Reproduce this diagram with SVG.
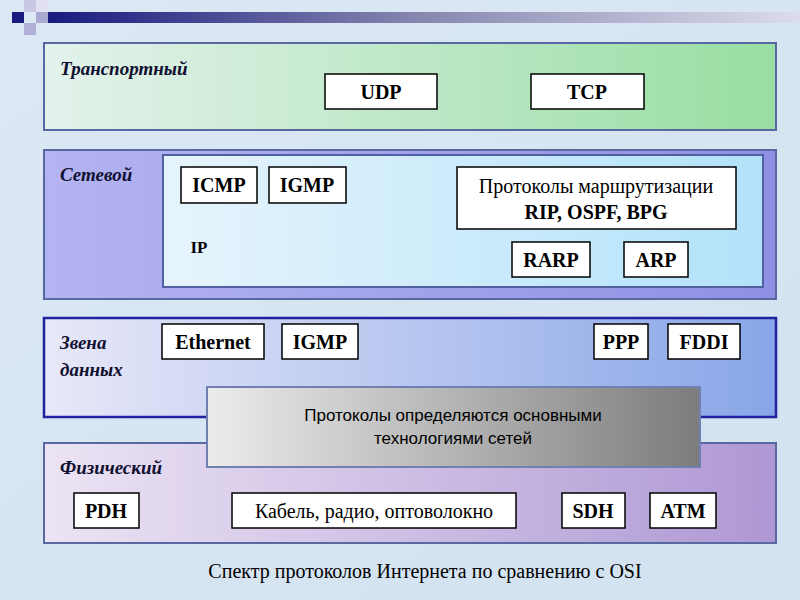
<svg xmlns="http://www.w3.org/2000/svg" width="800" height="600" viewBox="0 0 800 600">
<defs>
<linearGradient id="bg" x1="0" y1="0" x2="1" y2="1"><stop offset="0" stop-color="#dce8f4"/><stop offset="1" stop-color="#d2e2f0"/></linearGradient>
<linearGradient id="bar" x1="0" x2="1"><stop offset="0" stop-color="#1a1a80"/><stop offset="0.5" stop-color="#8888b0"/><stop offset="1" stop-color="#dcdcec"/></linearGradient>
<linearGradient id="g1" x1="0" x2="1"><stop offset="0" stop-color="#e4f2ec"/><stop offset="1" stop-color="#98dea2"/></linearGradient>
<linearGradient id="g2" x1="0" x2="1"><stop offset="0" stop-color="#b4b4f2"/><stop offset="1" stop-color="#9090e4"/></linearGradient>
<linearGradient id="g2i" x1="0" x2="1"><stop offset="0" stop-color="#e6f4fc"/><stop offset="1" stop-color="#b2e2fa"/></linearGradient>
<linearGradient id="g3" x1="0" x2="1"><stop offset="0" stop-color="#e8e8f8"/><stop offset="1" stop-color="#88a6e8"/></linearGradient>
<linearGradient id="g4" x1="0" x2="1"><stop offset="0" stop-color="#ece4f4"/><stop offset="1" stop-color="#ae98d4"/></linearGradient>
<linearGradient id="gg" x1="0" x2="1"><stop offset="0" stop-color="#ececec"/><stop offset="1" stop-color="#7c7c7c"/></linearGradient>
<style>
.band{stroke:#5868a0;stroke-width:2}
.box{fill:#fff;stroke:#000;stroke-width:1.5}
.sf{font-family:"Liberation Serif","Times New Roman","DejaVu Serif",serif}
.bt{font-weight:bold;font-size:20px;text-anchor:middle;fill:#000}
.lbl{font-weight:bold;font-style:italic;font-size:19px;fill:#101030}
.rt{font-size:20px;text-anchor:middle;fill:#000}
.ss{font-family:"Liberation Sans",Arial,sans-serif;font-size:17px;text-anchor:middle}
</style>
</defs>
<rect width="800" height="600" fill="url(#bg)"/>
<g id="decor">
<rect x="48" y="12" width="752" height="11" fill="url(#bar)"/>
<rect x="12" y="12" width="12" height="11" fill="#1a1a80"/>
<rect x="24" y="0" width="12" height="12" fill="#c8c8e4"/>
<rect x="36" y="12" width="12" height="11" fill="#a8a8d0"/>
<rect x="24" y="23" width="12" height="12" fill="#b0b0d8"/>
<rect x="36" y="0" width="12" height="12" fill="#e0e0f0"/>
</g>
<g id="transport">
<rect class="band" x="44" y="43" width="732" height="87" fill="url(#g1)"/>
<text class="sf lbl" x="60" y="75">Транспортный</text>
</g>
<g id="udp"><rect class="box" x="325" y="74" width="112" height="35"/><text class="sf bt" x="381" y="99">UDP</text></g>
<g id="tcp"><rect class="box" x="531" y="74" width="113" height="35"/><text class="sf bt" x="587" y="99">TCP</text></g>
<g id="network">
<rect class="band" x="44" y="150" width="732" height="149" fill="url(#g2)"/>
<rect x="163" y="155" width="600" height="132" fill="url(#g2i)" stroke="#5060a0" stroke-width="2"/>
<text class="sf lbl" x="60" y="181">Сетевой</text>
<text class="sf bt" x="199" y="253" style="font-size:17px">IP</text>
</g>
<g id="icmp"><rect class="box" x="181" y="167" width="76" height="36"/><text class="sf bt" x="219" y="192">ICMP</text></g>
<g id="igmp1"><rect class="box" x="269" y="167" width="77" height="36"/><text class="sf bt" x="307" y="192">IGMP</text></g>
<g id="routing"><rect class="box" x="457" y="167" width="279" height="62"/>
<text class="sf rt" x="596" y="193">Протоколы маршрутизации</text>
<text class="sf bt" x="596" y="219">RIP, OSPF, BPG</text></g>
<g id="rarp"><rect class="box" x="512" y="242" width="78" height="35"/><text class="sf bt" x="551" y="267">RARP</text></g>
<g id="arp"><rect class="box" x="624" y="242" width="64" height="35"/><text class="sf bt" x="656" y="267">ARP</text></g>
<g id="datalink">
<rect x="44" y="318" width="732" height="99" fill="url(#g3)" stroke="#2222a0" stroke-width="2.5"/>
<text class="sf lbl" x="60" y="349">Звена</text>
<text class="sf lbl" x="60" y="376">данных</text>
</g>
<g id="ethernet"><rect class="box" x="162" y="324" width="102" height="35"/><text class="sf bt" x="213" y="349">Ethernet</text></g>
<g id="igmp2"><rect class="box" x="282" y="324" width="76" height="35"/><text class="sf bt" x="320" y="349">IGMP</text></g>
<g id="ppp"><rect class="box" x="594" y="324" width="54" height="35"/><text class="sf bt" x="621" y="349">PPP</text></g>
<g id="fddi"><rect class="box" x="668" y="324" width="72" height="35"/><text class="sf bt" x="704" y="349">FDDI</text></g>
<g id="physical">
<rect class="band" x="44" y="443" width="732" height="100" fill="url(#g4)"/>
<text class="sf lbl" x="60" y="474">Физический</text>
</g>
<g id="pdh"><rect class="box" x="74" y="493" width="65" height="35"/><text class="sf bt" x="106" y="518">PDH</text></g>
<g id="cable"><rect class="box" x="232" y="493" width="284" height="35"/><text class="sf rt" x="374" y="518">Кабель, радио, оптоволокно</text></g>
<g id="sdh"><rect class="box" x="562" y="493" width="63" height="35"/><text class="sf bt" x="593" y="518">SDH</text></g>
<g id="atm"><rect class="box" x="650" y="493" width="66" height="35"/><text class="sf bt" x="683" y="518">ATM</text></g>
<g id="note">
<rect x="207" y="387" width="493" height="80" fill="url(#gg)" stroke="#7080b0" stroke-width="2"/>
<text class="ss" x="453" y="421">Протоколы определяются основными</text>
<text class="ss" x="453" y="444">технологиями сетей</text>
</g>
<text class="sf rt" x="425" y="578">Спектр протоколов Интернета по сравнению с OSI</text>
</svg>
